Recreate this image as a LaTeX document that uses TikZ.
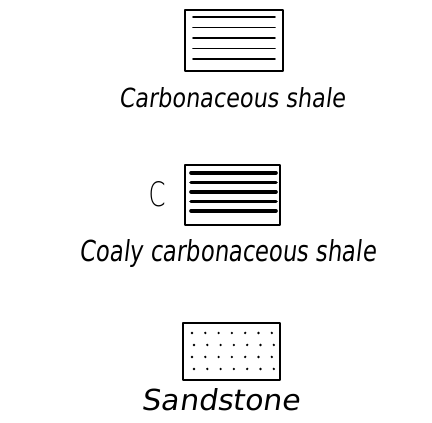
\documentclass[tikz,border=0pt]{standalone}
\usepackage{fontspec}
\setmainfont{DejaVu Sans}
\newfontfamily\handfont{DejaVu Sans}[FakeSlant=0.15]
\newfontfamily\lightfont{DejaVu Sans ExtraLight}
\usepackage{graphicx}
\begin{document}
\begin{tikzpicture}[x=1pt,y=1pt,
  legbox/.style={draw=black,line width=1.6pt,line join=round},
  thinhatch/.style={line width=1.8pt,line cap=round},
  thickhatch/.style={line width=3.6pt,line cap=round},
  lab/.style={inner sep=0pt,font=\handfont}]
\useasboundingbox (0,0) rectangle (432,423);
% box 1: carbonaceous shale
\draw[legbox] (185,413) rectangle (283,352);
\foreach \yy in {406,395.5,385,374.5,364} {\draw[thinhatch] (193,\yy) -- (275,\yy);}
\node[lab] (t1) at (232,325) {\resizebox{226pt}{20pt}{Carbonaceous shale}};
% box 2: coaly carbonaceous shale
\draw[legbox] (185,258) rectangle (280,198);
\foreach \yy in {250,240.5,231,221.5,212} {\draw[thickhatch] (191,\yy) -- (276,\yy);}
\node[inner sep=0pt] (c) at (157,229) {\resizebox{17pt}{25pt}{\lightfont C}};
\node[lab] (t2) at (228,169) {\resizebox{296pt}{22pt}{Coaly carbonaceous shale}};
% box 3: sandstone
\draw[legbox] (183,100) rectangle (280,43);
\foreach \yy/\dx in {90/0,78/2,66/0,54/2} {
  \foreach \xx in {192,205.3,218.6,231.9,245.2,258.5,271.8} {
    \fill (\xx+\dx,\yy) circle (1.3);
  }
}
\node[lab] (t3) at (221,23) {\resizebox{158pt}{22pt}{Sandstone}};
\end{tikzpicture}
\end{document}
